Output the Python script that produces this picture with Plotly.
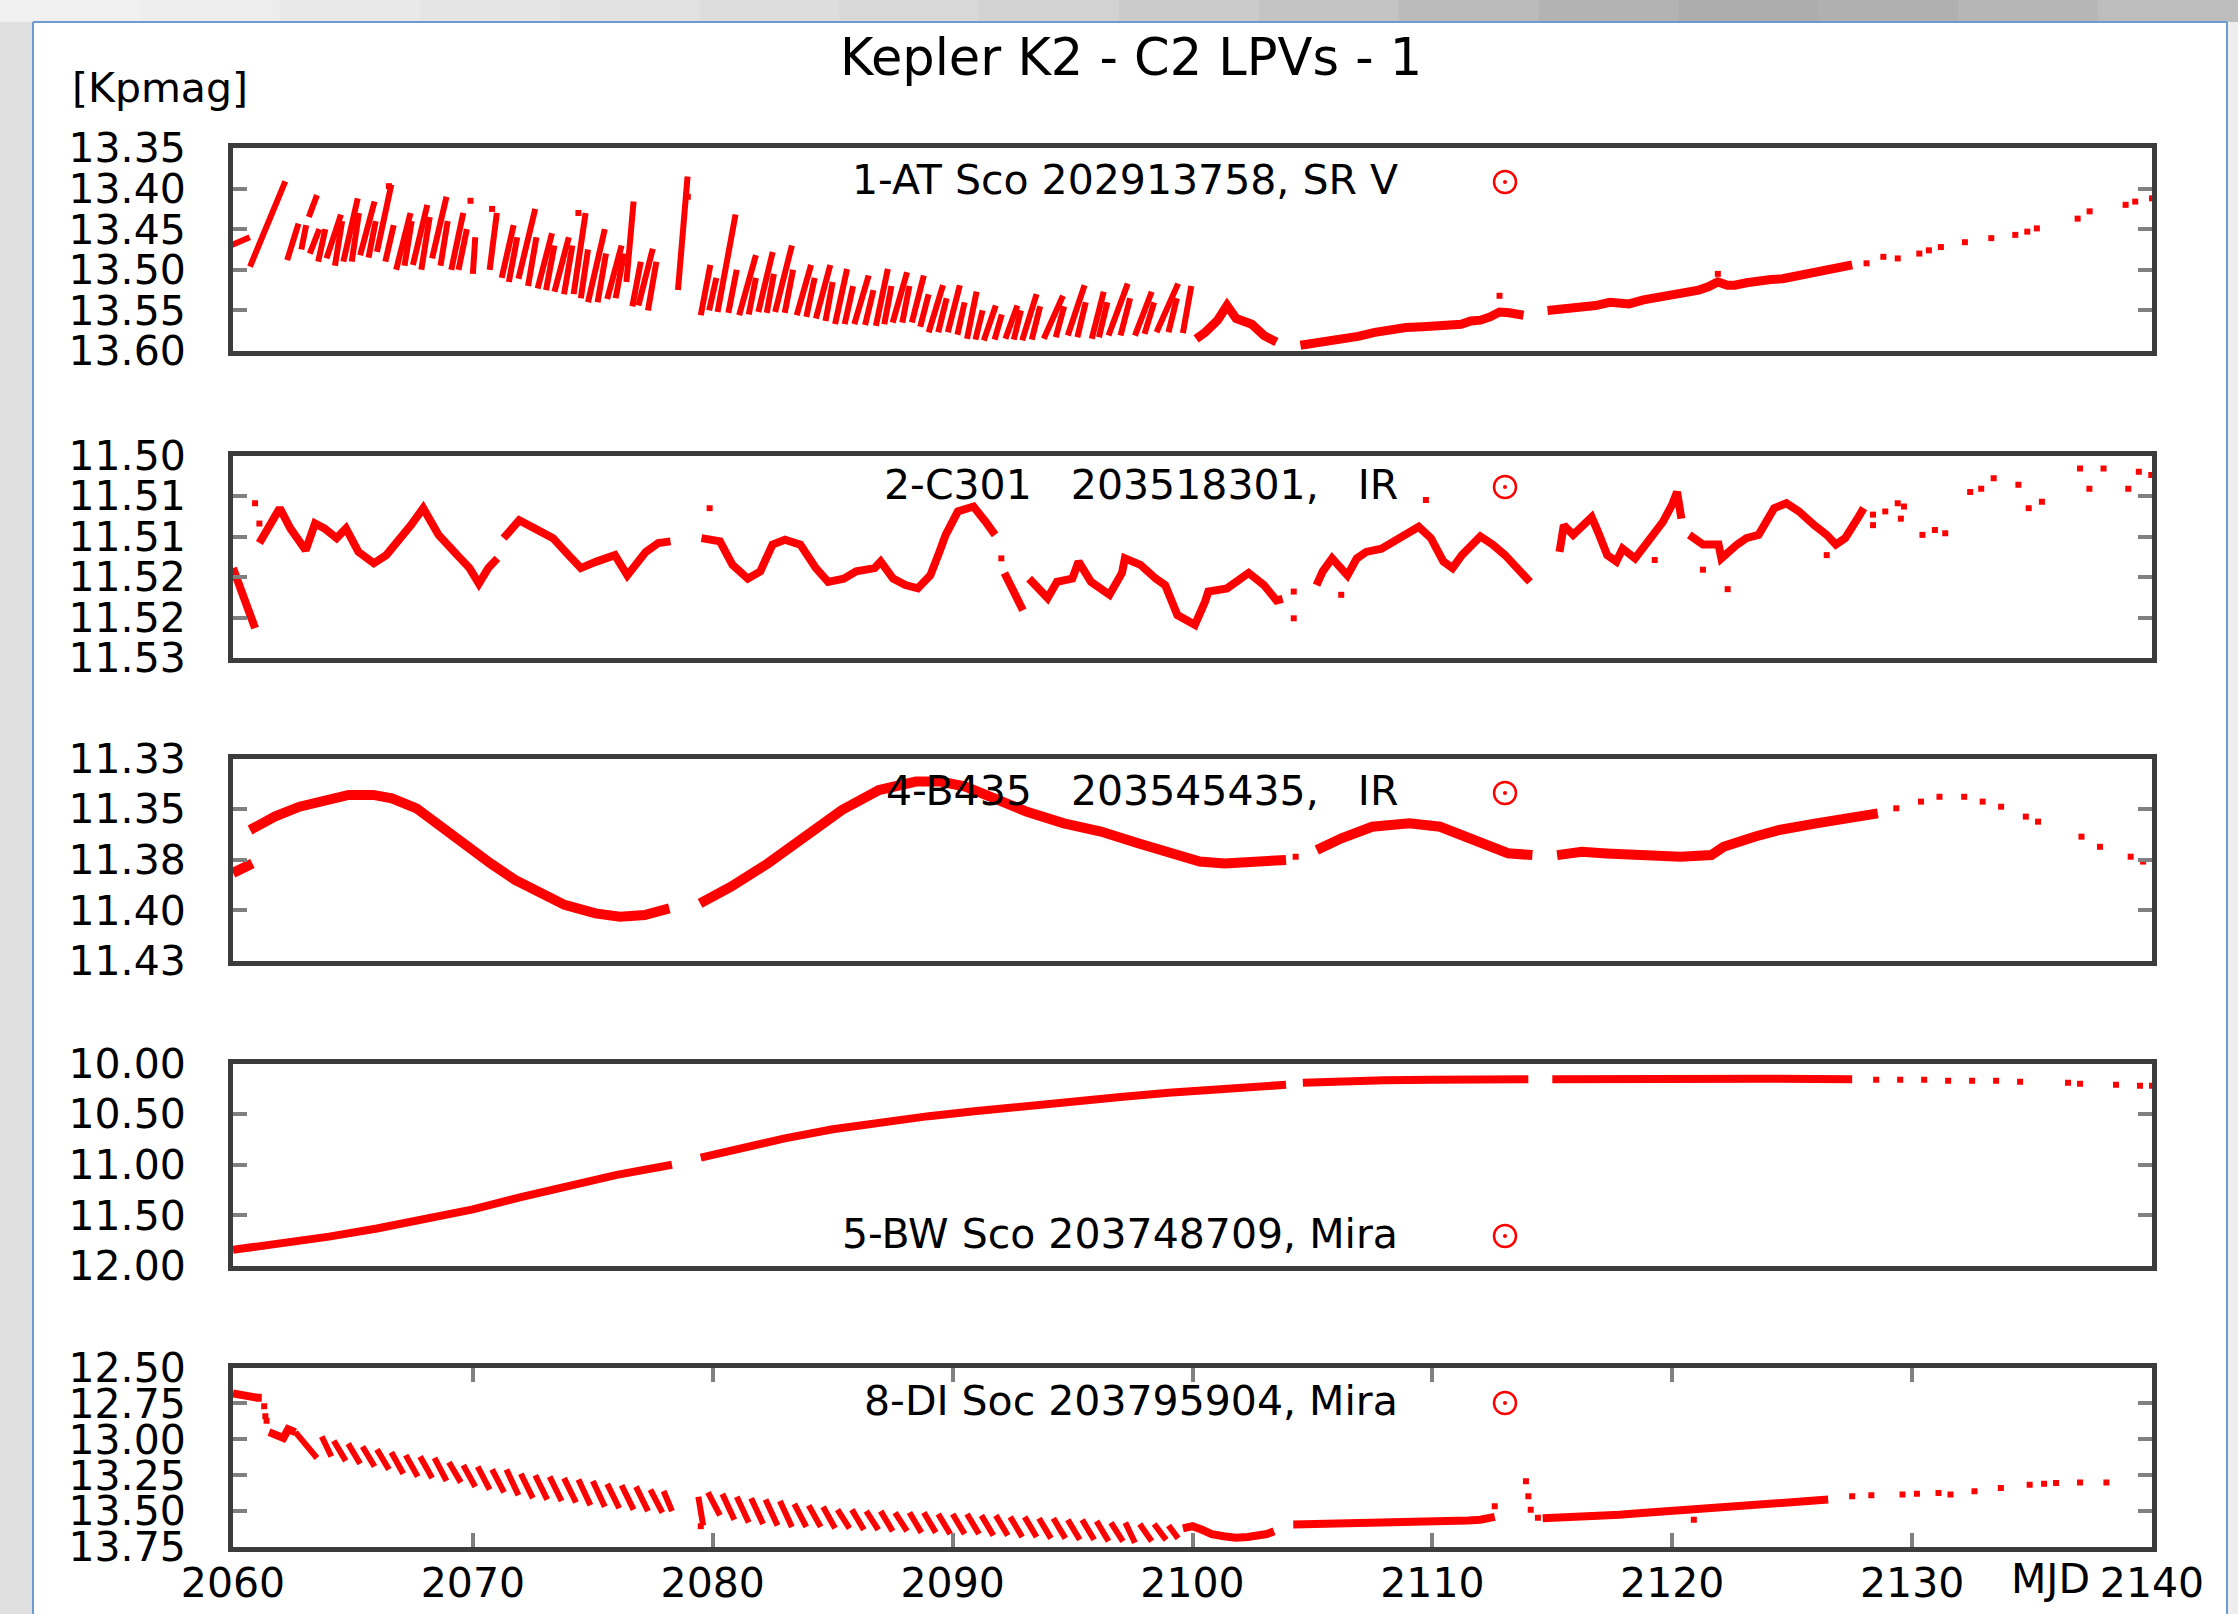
import plotly.graph_objects as go

# ---------------- data ----------------
x_tick_vals = [2060, 2070, 2080, 2090, 2100, 2110, 2120, 2130, 2140]
x_tick_text = ["2060", "2070", "2080", "2090", "2100", "2110", "2120", "2130", "2140"]

# Panel 1: 1-AT Sco
p1_label = "1-AT Sco 202913758, SR V"
p1_range = [13.60, 13.35]
p1_yticks = [13.35, 13.40, 13.45, 13.50, 13.55, 13.60]
p1_ytext = ["13.35", "13.40", "13.45", "13.50", "13.55", "13.60"]
p1_st_t0 = [2059.9, 2060.71, 2062.26, 2063.16, 2063.2, 2063.9, 2064.6, 2065.3, 2066.0, 2066.8, 2067.5, 2068.3,
            2069.1, 2070.0, 2070.7, 2071.2, 2071.9, 2072.7, 2073.4, 2074.2, 2074.8, 2075.6, 2076.4, 2076.9,
            2078.55, 2079.5, 2080.2, 2081.1, 2081.9, 2082.6, 2083.5, 2084.3, 2085.1, 2085.9, 2086.8, 2087.5,
            2088.3, 2089.0, 2089.8, 2090.6, 2091.3, 2092.2, 2092.9, 2093.8, 2094.8, 2095.8, 2096.5, 2097.6,
            2098.5, 2099.6]
p1_st_m0 = [13.470, 13.496, 13.488, 13.435, 13.480, 13.486, 13.490, 13.482, 13.478, 13.500, 13.494, 13.486,
            13.500, 13.505, 13.500, 13.510, 13.511, 13.523, 13.527, 13.530, 13.540, 13.536, 13.515, 13.544,
            13.525, 13.556, 13.552, 13.556, 13.552, 13.552, 13.556, 13.560, 13.567, 13.567, 13.569, 13.565,
            13.565, 13.577, 13.577, 13.585, 13.587, 13.585, 13.587, 13.585, 13.581, 13.585, 13.581, 13.581,
            13.577, 13.578]
p1_st_t1 = [2060.7, 2062.18, 2062.73, 2063.5, 2063.6, 2064.5, 2065.2, 2065.9, 2066.6, 2067.4, 2068.1, 2068.9,
            2069.6, 2070.1, 2071.0, 2071.7, 2072.6, 2073.3, 2074.0, 2074.7, 2075.5, 2076.2, 2076.7, 2077.5,
            2078.95, 2079.9, 2080.95, 2081.8, 2082.5, 2083.3, 2084.1, 2084.9, 2085.6, 2086.5, 2087.3, 2088.1,
            2088.8, 2089.6, 2090.3, 2091.0, 2091.8, 2092.7, 2093.5, 2094.6, 2095.5, 2096.3, 2097.3, 2098.3,
            2099.4, 2099.95]
p1_st_m1 = [13.460, 13.391, 13.443, 13.408, 13.450, 13.432, 13.412, 13.416, 13.395, 13.430, 13.420, 13.410,
            13.430, 13.460, 13.430, 13.445, 13.425, 13.455, 13.460, 13.430, 13.450, 13.470, 13.416, 13.474,
            13.385, 13.494, 13.432, 13.482, 13.478, 13.470, 13.494, 13.494, 13.499, 13.507, 13.499, 13.503,
            13.507, 13.519, 13.519, 13.527, 13.544, 13.544, 13.530, 13.532, 13.519, 13.527, 13.517, 13.527,
            13.517, 13.520]
# interleaved streaks of panel 1
p1_st2_t0 = [2062.85, 2063.55, 2064.25, 2064.95, 2065.65, 2066.35, 2067.15, 2067.85, 2068.65, 2069.4,
             2071.5, 2072.3, 2073.05, 2073.8, 2074.5, 2075.2, 2075.95, 2076.65, 2077.3,
             2079.85, 2080.65, 2081.5, 2082.25, 2083.0, 2083.9, 2084.7, 2085.5, 2086.35, 2087.15, 2087.9,
             2088.65, 2089.4, 2090.2, 2090.95, 2091.75, 2092.55, 2093.3, 2094.3, 2095.2, 2096.1, 2097.0,
             2098.0, 2099.0]
p1_st2_m0 = [13.475, 13.490, 13.495, 13.490, 13.485, 13.490, 13.495, 13.500, 13.495, 13.500,
             13.515, 13.520, 13.525, 13.530, 13.535, 13.540, 13.535, 13.545, 13.550,
             13.550, 13.553, 13.555, 13.553, 13.553, 13.558, 13.563, 13.567, 13.568, 13.567, 13.565,
             13.570, 13.577, 13.580, 13.586, 13.586, 13.586, 13.586, 13.583, 13.583, 13.583, 13.581,
             13.579, 13.577]
p1_st2_t1 = [2063.05, 2063.85, 2064.55, 2065.25, 2065.95, 2066.7, 2067.45, 2068.2, 2068.95, 2069.75,
             2071.85, 2072.65, 2073.4, 2074.15, 2074.8, 2075.55, 2076.3, 2077.0, 2077.65,
             2080.15, 2081.0, 2081.8, 2082.55, 2083.35, 2084.25, 2085.0, 2085.85, 2086.7, 2087.45, 2088.2,
             2089.0, 2089.75, 2090.5, 2091.25, 2092.05, 2092.85, 2093.65, 2094.65, 2095.55, 2096.45, 2097.4,
             2098.4, 2099.35]
p1_st2_m1 = [13.445, 13.450, 13.440, 13.430, 13.440, 13.445, 13.440, 13.435, 13.440, 13.450,
             13.460, 13.460, 13.470, 13.470, 13.475, 13.480, 13.480, 13.490, 13.490,
             13.510, 13.500, 13.510, 13.505, 13.500, 13.510, 13.515, 13.520, 13.525, 13.520, 13.520,
             13.530, 13.535, 13.540, 13.550, 13.555, 13.550, 13.545, 13.545, 13.540, 13.540, 13.535,
             13.540, 13.535]
p1_hump_t = [2100.15, 2100.53, 2101.05, 2101.44, 2101.82, 2102.47, 2102.98, 2103.5]
p1_hump_m = [13.585, 13.577, 13.562, 13.544, 13.560, 13.567, 13.581, 13.589]
p1_band1_t = [2104.5, 2105.3, 2106.1, 2106.9, 2107.6, 2108.3, 2108.9, 2109.6, 2110.2, 2110.7, 2111.2, 2111.6,
              2112.0, 2112.4, 2112.8, 2113.2, 2113.5, 2113.8]
p1_band1_m = [13.593, 13.590, 13.587, 13.582, 13.577, 13.573, 13.571, 13.570, 13.569, 13.568, 13.567, 13.563,
              13.562, 13.558, 13.552, 13.553, 13.555, 13.556]
p1_band2_t = [2114.8, 2115.3, 2116.1, 2116.8, 2117.4, 2118.2, 2118.8, 2119.5, 2120.0, 2120.5, 2121.1, 2121.5,
              2121.9, 2122.3, 2122.6, 2123.1, 2123.6, 2124.1, 2124.6, 2125.1, 2125.7, 2126.2, 2126.7, 2127.1, 2127.5]
p1_band2_m = [13.550, 13.549, 13.546, 13.544, 13.540, 13.542, 13.537, 13.534, 13.532, 13.529, 13.525, 13.521,
              13.515, 13.519, 13.519, 13.516, 13.513, 13.512, 13.511, 13.508, 13.505, 13.502, 13.499, 13.496, 13.494]
p1_dots_t = [2069.9, 2070.8, 2074.4, 2066.5, 2078.96, 2112.8, 2121.9, 2128.1, 2128.8, 2129.4, 2130.3, 2130.7,
             2131.2, 2132.2, 2133.3, 2134.3, 2134.8, 2135.2, 2136.9, 2137.4, 2138.9, 2139.3, 2140.0]
p1_dots_m = [13.415, 13.425, 13.430, 13.397, 13.410, 13.532, 13.505, 13.492, 13.484, 13.486, 13.480, 13.476,
             13.472, 13.466, 13.461, 13.457, 13.453, 13.449, 13.437, 13.428, 13.420, 13.416, 13.412]

# Panel 2: C301
p2_label = "2-C301   203518301,   IR"
p2_range = [11.525, 11.500]
p2_yticks = [11.500, 11.505, 11.510, 11.515, 11.520, 11.525]
p2_ytext = ["11.50", "11.51", "11.51", "11.52", "11.52", "11.53"]
p2_seg1_t = [2060.0, 2060.45, 2060.92]
p2_seg1_m = [11.5139, 11.5176, 11.5213]
p2_seg2_t = [2061.10, 2061.49, 2061.95, 2062.39, 2063.03, 2063.42, 2063.81, 2064.32, 2064.71, 2065.23, 2065.87,
             2066.39, 2066.77, 2067.42, 2067.93, 2068.57, 2069.35, 2069.86, 2070.25, 2070.64, 2071.02]
p2_seg2_m = [11.5108, 11.5090, 11.5065, 11.5090, 11.5117, 11.5084, 11.5090, 11.5102, 11.5090, 11.5119, 11.5133,
             11.5123, 11.5110, 11.5086, 11.5065, 11.5098, 11.5123, 11.5139, 11.5158, 11.5139, 11.5127]
p2_seg3_t = [2071.28, 2071.93, 2072.57, 2073.34, 2073.99, 2074.50, 2075.15, 2075.92, 2076.44, 2077.21, 2077.73, 2078.24]
p2_seg3_m = [11.5102, 11.5080, 11.5090, 11.5102, 11.5123, 11.5139, 11.5131, 11.5123, 11.5148, 11.5119, 11.5108, 11.5106]
p2_seg4_t = [2079.53, 2080.30, 2080.82, 2081.46, 2081.98, 2082.49, 2083.01, 2083.65, 2084.30, 2084.81, 2085.46,
             2085.98, 2086.75, 2087.00, 2087.52, 2088.03, 2088.55, 2089.07, 2089.45, 2089.71, 2090.22, 2090.87,
             2091.38, 2091.77]
p2_seg4_m = [11.5102, 11.5106, 11.5135, 11.5152, 11.5143, 11.5110, 11.5104, 11.5110, 11.5139, 11.5156, 11.5152,
             11.5143, 11.5139, 11.5131, 11.5152, 11.5160, 11.5164, 11.5148, 11.5119, 11.5098, 11.5069, 11.5063,
             11.5082, 11.5098]
p2_seg5_t = [2092.16, 2092.55, 2092.93]
p2_seg5_m = [11.5145, 11.5168, 11.5191]
p2_seg6_t = [2093.19, 2093.96, 2094.35, 2094.99, 2095.25, 2095.77, 2096.54, 2097.06, 2097.18, 2097.83, 2098.47,
             2098.86, 2099.37, 2100.10, 2100.53, 2100.66, 2101.44, 2102.34, 2102.98, 2103.50, 2103.76]
p2_seg6_m = [11.5152, 11.5176, 11.5156, 11.5152, 11.5131, 11.5156, 11.5172, 11.5145, 11.5127, 11.5135, 11.5152,
             11.5160, 11.5197, 11.5209, 11.5180, 11.5168, 11.5164, 11.5145, 11.5160, 11.5179, 11.5177]
p2_seg7_t = [2105.17, 2105.43, 2105.82, 2106.46, 2106.85, 2107.24, 2107.88, 2108.40, 2108.91, 2109.43, 2109.94,
             2110.46, 2110.84, 2111.23, 2112.00, 2112.52, 2113.03, 2113.55, 2114.07]
p2_seg7_m = [11.5160, 11.5143, 11.5127, 11.5148, 11.5127, 11.5119, 11.5115, 11.5106, 11.5098, 11.5088, 11.5102,
             11.5131, 11.5139, 11.5123, 11.5100, 11.5110, 11.5123, 11.5139, 11.5156]
p2_seg8_t = [2115.30, 2115.48, 2115.87, 2116.64, 2116.90, 2117.29, 2117.67, 2117.93, 2118.45, 2118.96, 2119.61,
             2119.99, 2120.20, 2120.38]
p2_seg8_m = [11.5119, 11.5086, 11.5098, 11.5076, 11.5094, 11.5123, 11.5131, 11.5115, 11.5127, 11.5106, 11.5082,
             11.5061, 11.5045, 11.5078]
p2_seg9_t = [2120.71, 2121.28, 2121.93, 2122.05, 2122.70, 2123.09, 2123.60, 2123.99, 2124.25, 2124.76, 2125.28,
             2125.92, 2126.44, 2126.82, 2127.21, 2127.72, 2127.98]
p2_seg9_m = [11.5098, 11.5110, 11.5110, 11.5127, 11.5110, 11.5102, 11.5098, 11.5078, 11.5065, 11.5059, 11.5069,
             11.5086, 11.5098, 11.5110, 11.5102, 11.5078, 11.5065]
p2_dots_t = [2060.92, 2061.10, 2079.87, 2092.03, 2104.22, 2104.22, 2106.20, 2109.73, 2119.27, 2121.28, 2122.31,
             2126.44, 2128.37, 2128.37, 2128.88, 2129.40, 2129.66, 2129.53, 2130.43, 2130.95, 2131.38, 2132.42,
             2132.88, 2133.40, 2134.43, 2134.86, 2135.41, 2137.00, 2137.39, 2137.98, 2139.01, 2139.45, 2139.97]
p2_dots_m = [11.5059, 11.5084, 11.5065, 11.5127, 11.5168, 11.5201, 11.5172, 11.5055, 11.5129, 11.5141, 11.5165,
             11.5123, 11.5073, 11.5086, 11.5069, 11.5059, 11.5063, 11.5078, 11.5098, 11.5092, 11.5096, 11.5045,
             11.5041, 11.5028, 11.5036, 11.5065, 11.5057, 11.5016, 11.5041, 11.5016, 11.5041, 11.5020, 11.5024]

# Panel 3: B435
p3_label = "4-B435   203545435,   IR"
p3_range = [11.425, 11.325]
p3_yticks = [11.325, 11.350, 11.375, 11.400, 11.425]
p3_ytext = ["11.33", "11.35", "11.38", "11.40", "11.43"]
p3_seg1_t = [2060.0, 2060.4, 2060.81]
p3_seg1_m = [11.3815, 11.3790, 11.3768]
p3_seg2_t = [2060.71, 2061.74, 2062.77, 2063.79, 2064.82, 2065.85, 2066.62, 2067.65, 2068.68, 2069.71, 2070.74,
             2071.76, 2072.79, 2073.82, 2075.11, 2076.13, 2077.16, 2078.19]
p3_seg2_m = [11.3603, 11.3537, 11.3488, 11.3455, 11.3430, 11.3430, 11.3447, 11.3496, 11.3587, 11.3685, 11.3768,
             11.3850, 11.3916, 11.3973, 11.4015, 11.4031, 11.4023, 11.3990]
p3_seg3_t = [2079.47, 2080.76, 2082.30, 2083.84, 2085.39, 2086.93, 2088.47, 2089.50, 2090.53, 2091.56, 2093.10,
             2094.64, 2096.18, 2097.73, 2099.27, 2100.30, 2101.33, 2102.87, 2103.90]
p3_seg3_m = [11.3965, 11.3883, 11.3768, 11.3636, 11.3504, 11.3406, 11.3364, 11.3364, 11.3389, 11.3438, 11.3513,
             11.3570, 11.3611, 11.3669, 11.3727, 11.3759, 11.3768, 11.3759, 11.3751]
p3_seg4_t = [2105.18, 2106.21, 2107.49, 2109.04, 2110.32, 2111.09, 2112.12, 2113.15, 2114.17]
p3_seg4_m = [11.3702, 11.3644, 11.3587, 11.3570, 11.3587, 11.3620, 11.3669, 11.3718, 11.3727]
p3_seg5_t = [2115.20, 2116.23, 2117.26, 2118.80, 2120.34, 2121.63, 2122.14, 2123.43, 2124.46, 2126.00, 2127.54, 2128.57]
p3_seg5_m = [11.3727, 11.3711, 11.3719, 11.3727, 11.3735, 11.3727, 11.3686, 11.3636, 11.3603, 11.3570, 11.3546, 11.3521]
p3_dots_t = [2104.3, 2129.34, 2130.37, 2131.14, 2132.17, 2132.94, 2133.71, 2134.74, 2135.25, 2137.06, 2137.83,
             2139.11, 2139.63]
p3_dots_m = [11.3735, 11.3496, 11.3463, 11.3439, 11.3439, 11.3463, 11.3488, 11.3537, 11.3562, 11.3636, 11.3686,
             11.3735, 11.3759]

# Panel 4: BW Sco
p4_label = "5-BW Sco 203748709, Mira"
p4_range = [12.0, 10.0]
p4_yticks = [10.0, 10.5, 11.0, 11.5, 12.0]
p4_ytext = ["10.00", "10.50", "11.00", "11.50", "12.00"]
p4_seg1_t = [2060.0, 2062.0, 2064.0, 2066.0, 2068.0, 2070.0, 2072.0, 2074.0, 2076.0, 2078.3]
p4_seg1_m = [11.84, 11.78, 11.71, 11.63, 11.54, 11.44, 11.32, 11.20, 11.10, 11.00]
p4_seg2_t = [2079.5, 2081.0, 2083.0, 2085.0, 2087.0, 2089.0, 2091.0, 2093.0, 2095.0, 2097.0, 2099.0, 2101.0,
             2103.0, 2103.9]
p4_seg2_m = [10.93, 10.84, 10.74, 10.65, 10.58, 10.52, 10.47, 10.42, 10.37, 10.33, 10.29, 10.25, 10.22, 10.21]
p4_seg3_t = [2104.6, 2106.0, 2108.0, 2110.0, 2112.0, 2114.0]
p4_seg3_m = [10.19, 10.175, 10.165, 10.16, 10.155, 10.155]
p4_seg4_t = [2115.0, 2118.0, 2121.0, 2124.0, 2127.5]
p4_seg4_m = [10.155, 10.15, 10.15, 10.15, 10.155]
p4_dots_t = [2128.5, 2129.5, 2130.5, 2131.5, 2132.5, 2133.5, 2134.5, 2136.5, 2137.0, 2138.5, 2139.5, 2140.0]
p4_dots_m = [10.16, 10.16, 10.16, 10.17, 10.17, 10.17, 10.18, 10.19, 10.20, 10.21, 10.22, 10.22]

# Panel 5: DI Sco
p5_label = "8-DI Soc 203795904, Mira"
p5_range = [13.75, 12.50]
p5_yticks = [12.50, 12.75, 13.00, 13.25, 13.50, 13.75]
p5_ytext = ["12.50", "12.75", "13.00", "13.25", "13.50", "13.75"]
p5_seg1_t = [2060.0, 2060.5, 2061.0, 2061.2]
p5_seg1_m = [12.68, 12.70, 12.71, 12.71]
p5_seg2_t = [2061.5, 2061.8, 2062.1, 2062.3, 2062.6]
p5_seg2_m = [12.95, 12.97, 12.99, 12.93, 12.95]
p5_st_t0 = [2062.6, 2063.7, 2064.2, 2064.8, 2065.4, 2066.0, 2066.6, 2067.2, 2067.8, 2068.4, 2069.0, 2069.6,
            2070.2, 2070.8, 2071.4, 2072.0, 2072.6, 2073.2, 2073.8, 2074.4, 2075.0, 2075.6, 2076.2, 2076.8,
            2077.4, 2077.95,
            2079.4, 2079.8, 2080.4, 2081.0, 2081.6, 2082.2, 2082.8, 2083.4, 2084.0, 2084.6, 2085.2, 2085.8,
            2086.4, 2087.0, 2087.6, 2088.2, 2088.8, 2089.4, 2090.0, 2090.6, 2091.2, 2091.8, 2092.4, 2093.0,
            2093.6, 2094.2, 2094.8, 2095.4, 2096.0, 2096.6, 2097.2, 2097.8, 2098.4, 2099.0]
p5_st_m0 = [12.95, 12.98, 13.01, 13.03, 13.05, 13.07, 13.09, 13.11, 13.12, 13.13, 13.16, 13.18,
            13.19, 13.21, 13.21, 13.24, 13.25, 13.26, 13.27, 13.28, 13.29, 13.31, 13.32, 13.33,
            13.35, 13.36,
            13.40, 13.37, 13.38, 13.40, 13.41, 13.42, 13.43, 13.45, 13.46, 13.47, 13.49, 13.49,
            13.50, 13.50, 13.51, 13.51, 13.51, 13.52, 13.52, 13.52, 13.53, 13.53, 13.54, 13.54,
            13.55, 13.55, 13.56, 13.56, 13.57, 13.58, 13.58, 13.59, 13.59, 13.60]
p5_st_t1 = [2063.5, 2064.1, 2064.7, 2065.3, 2065.9, 2066.5, 2067.1, 2067.7, 2068.3, 2068.9, 2069.5, 2070.1,
            2070.7, 2071.3, 2071.9, 2072.5, 2073.1, 2073.7, 2074.3, 2074.9, 2075.5, 2076.1, 2076.7, 2077.3,
            2077.9, 2078.3,
            2079.6, 2080.3, 2080.9, 2081.5, 2082.1, 2082.7, 2083.3, 2083.9, 2084.5, 2085.1, 2085.7, 2086.3,
            2086.9, 2087.5, 2088.1, 2088.7, 2089.3, 2089.9, 2090.5, 2091.1, 2091.7, 2092.3, 2092.9, 2093.5,
            2094.1, 2094.7, 2095.3, 2095.9, 2096.5, 2097.1, 2097.6, 2098.3, 2098.9, 2099.4]
p5_st_m1 = [13.13, 13.12, 13.15, 13.17, 13.19, 13.21, 13.24, 13.26, 13.27, 13.29, 13.30, 13.33,
            13.35, 13.37, 13.39, 13.41, 13.42, 13.43, 13.44, 13.46, 13.47, 13.48, 13.49, 13.50,
            13.51, 13.50,
            13.60, 13.53, 13.56, 13.58, 13.59, 13.60, 13.61, 13.61, 13.61, 13.62, 13.62, 13.63,
            13.63, 13.64, 13.64, 13.65, 13.65, 13.66, 13.66, 13.66, 13.67, 13.67, 13.68, 13.68,
            13.69, 13.69, 13.70, 13.70, 13.71, 13.71, 13.72, 13.71, 13.70, 13.69]
p5_hump_t = [2099.6, 2100.0, 2100.4, 2100.8, 2101.3, 2101.8, 2102.3, 2102.8, 2103.1, 2103.4]
p5_hump_m = [13.62, 13.605, 13.63, 13.66, 13.675, 13.685, 13.68, 13.675, 13.66, 13.64]
p5_band1_t = [2104.2, 2105.0, 2106.0, 2107.0, 2108.2, 2109.3, 2110.2, 2110.8, 2111.5, 2112.0, 2112.3, 2112.6]
p5_band1_m = [13.594, 13.592, 13.590, 13.586, 13.582, 13.580, 13.576, 13.571, 13.565, 13.560, 13.545, 13.540]
p5_band2_t = [2114.6, 2115.2, 2116.0, 2117.0, 2117.8, 2118.6, 2119.4, 2120.3, 2121.2, 2122.0, 2122.8, 2123.5,
              2124.0, 2124.8, 2125.6, 2126.5]
p5_band2_m = [13.550, 13.547, 13.540, 13.535, 13.525, 13.515, 13.505, 13.490, 13.485, 13.475, 13.465, 13.455,
              13.445, 13.440, 13.430, 13.420]
p5_dots_t = [2061.3, 2061.35, 2061.4, 2112.6, 2113.9, 2114.0, 2114.1, 2114.4, 2120.9, 2079.5, 2127.5, 2128.3,
             2129.6, 2130.2, 2131.1, 2131.6, 2132.6, 2133.7, 2134.9, 2135.5, 2136.0, 2137.0, 2138.1]
p5_dots_m = [12.77, 12.84, 12.87, 13.466, 13.293, 13.397, 13.49, 13.547, 13.56, 13.605, 13.397, 13.39,
             13.385, 13.38, 13.374, 13.385, 13.362, 13.339, 13.316, 13.31, 13.304, 13.30, 13.30]

# ---------------- layout geometry (pixels) ----------------
W, H = 2238, 1614
L, R, T, B = 233, 2152, 148, 1547
panel_px = [(148, 351), (455.5, 658), (758.5, 961), (1063.5, 1266), (1367.5, 1547)]
label_y_px = [180, 485, 791, 1234, 1401]
FONT = "DejaVu Sans"
RED = "#ff0000"


def xp(px):
    return (px - L) / (R - L)


def yp(py):
    return (B - py) / (B - T)


def join_segments(*segs):
    xs, ys = [], []
    for t, m in segs:
        xs += list(t) + [None]
        ys += list(m) + [None]
    return xs, ys


def streaks(t0, m0, t1, m1):
    xs, ys = [], []
    for a, b, c, d in zip(t0, m0, t1, m1):
        xs += [a, c, None]
        ys += [b, d, None]
    return xs, ys


fig = go.Figure()


def add_lines(i, xs, ys, width):
    fig.add_trace(go.Scatter(x=xs, y=ys, mode="lines", line=dict(color=RED, width=width),
                             xaxis="x" if i == 1 else f"x{i}", yaxis="y" if i == 1 else f"y{i}",
                             connectgaps=False, hoverinfo="skip"))


def add_dots(i, xs, ys, size=6):
    fig.add_trace(go.Scatter(x=xs, y=ys, mode="markers",
                             marker=dict(color=RED, size=size, symbol="square", line=dict(width=0)),
                             xaxis="x" if i == 1 else f"x{i}", yaxis="y" if i == 1 else f"y{i}",
                             hoverinfo="skip"))


# panel 1
sx, sy = streaks(p1_st_t0, p1_st_m0, p1_st_t1, p1_st_m1)
add_lines(1, sx, sy, 6)
sx, sy = streaks(p1_st2_t0, p1_st2_m0, p1_st2_t1, p1_st2_m1)
add_lines(1, sx, sy, 6)
bx, by = join_segments((p1_hump_t, p1_hump_m), (p1_band1_t, p1_band1_m), (p1_band2_t, p1_band2_m))
add_lines(1, bx, by, 9)
add_dots(1, p1_dots_t, p1_dots_m)

# panel 2
bx, by = join_segments((p2_seg1_t, p2_seg1_m), (p2_seg2_t, p2_seg2_m), (p2_seg3_t, p2_seg3_m),
                       (p2_seg4_t, p2_seg4_m), (p2_seg5_t, p2_seg5_m), (p2_seg6_t, p2_seg6_m),
                       (p2_seg7_t, p2_seg7_m), (p2_seg8_t, p2_seg8_m), (p2_seg9_t, p2_seg9_m))
add_lines(2, bx, by, 8)
add_dots(2, p2_dots_t, p2_dots_m)

# panel 3
bx, by = join_segments((p3_seg1_t, p3_seg1_m), (p3_seg2_t, p3_seg2_m), (p3_seg3_t, p3_seg3_m),
                       (p3_seg4_t, p3_seg4_m), (p3_seg5_t, p3_seg5_m))
add_lines(3, bx, by, 10)
add_dots(3, p3_dots_t, p3_dots_m)

# panel 4
bx, by = join_segments((p4_seg1_t, p4_seg1_m), (p4_seg2_t, p4_seg2_m), (p4_seg3_t, p4_seg3_m),
                       (p4_seg4_t, p4_seg4_m))
add_lines(4, bx, by, 8)
add_dots(4, p4_dots_t, p4_dots_m)

# panel 5
sx, sy = streaks(p5_st_t0, p5_st_m0, p5_st_t1, p5_st_m1)
add_lines(5, sx, sy, 6)
bx, by = join_segments((p5_seg1_t, p5_seg1_m), (p5_seg2_t, p5_seg2_m), (p5_hump_t, p5_hump_m),
                       (p5_band1_t, p5_band1_m), (p5_band2_t, p5_band2_m))
add_lines(5, bx, by, 8)
add_dots(5, p5_dots_t, p5_dots_m)

# ---------------- axes ----------------
ranges = [p1_range, p2_range, p3_range, p4_range, p5_range]
yticks = [p1_yticks, p2_yticks, p3_yticks, p4_yticks, p5_yticks]
ytexts = [p1_ytext, p2_ytext, p3_ytext, p4_ytext, p5_ytext]
labels = [p1_label, p2_label, p3_label, p4_label, p5_label]

FRAME = "#3c3c3c"
TICKC = "#808080"
layout = dict(
    width=W, height=H,
    margin=dict(l=L, r=W - R, t=T, b=H - B, pad=0, autoexpand=False),
    paper_bgcolor="white", plot_bgcolor="white", showlegend=False,
    font=dict(family=FONT, size=41, color="black"),
)
for i in range(1, 6):
    top, bot = panel_px[i - 1]
    xk = "xaxis" if i == 1 else f"xaxis{i}"
    yk = "yaxis" if i == 1 else f"yaxis{i}"
    xa = dict(domain=[0, 1], range=[2060, 2140], anchor="y" if i == 1 else f"y{i}",
              showline=True, linecolor=FRAME, linewidth=5, mirror=True,
              showgrid=False, zeroline=False, fixedrange=True)
    if i == 5:
        xa.update(ticks="inside", ticklen=14, tickwidth=4, tickcolor=TICKC, mirror="ticks",
                  tickvals=x_tick_vals, ticktext=x_tick_text, showticklabels=True,
                  tickfont=dict(family=FONT, size=41, color="black"), ticklabelstandoff=-4)
    else:
        xa.update(ticks="", showticklabels=False)
    layout[xk] = xa
    layout[yk] = dict(domain=[yp(bot), yp(top)], range=ranges[i - 1], anchor="x" if i == 1 else f"x{i}",
                      tickvals=yticks[i - 1], ticktext=ytexts[i - 1],
                      ticks="inside", ticklen=14, tickwidth=4, tickcolor=TICKC,
                      showline=True, linecolor=FRAME, linewidth=5, mirror="ticks",
                      showgrid=False, zeroline=False, fixedrange=True,
                      tickfont=dict(family=FONT, size=41, color="black"), ticklabelstandoff=34)
fig.update_layout(**layout)

# ---------------- annotations ----------------
ann = [
    dict(text="Kepler K2 - C2 LPVs - 1", x=xp(1131), y=yp(57), font=dict(size=51)),
    dict(text="[Kpmag]", x=xp(160), y=yp(88), font=dict(size=41)),
    dict(text="MJD", x=xp(2050), y=yp(1579), font=dict(size=41)),
]
for lab, ly in zip(labels, label_y_px):
    ann.append(dict(text=lab, x=xp(1400), y=yp(ly), xanchor="right", font=dict(size=41)))
for a in ann:
    a.setdefault("xanchor", "center")
    fig.add_annotation(xref="paper", yref="paper", showarrow=False, yanchor="middle",
                       font=dict(family=FONT, color="black", size=a.pop("font")["size"]), **a)

# ---------------- window frame & key symbols ----------------
shapes = []
grays = ["#f0f0f0", "#ededed", "#e9e9e9", "#e5e5e5", "#e1e1e1", "#dddddd", "#d8d8d8", "#d2d2d2",
         "#cbcbcb", "#c4c4c4", "#bbbbbb", "#b3b3b3", "#adadad", "#b0b0b0", "#b6b6b6", "#bdbdbd"]
step = W / len(grays)
for k, g in enumerate(grays):
    shapes.append(dict(type="rect", xref="paper", yref="paper", x0=xp(k * step), x1=xp((k + 1) * step + 1),
                       y0=yp(22), y1=yp(0), fillcolor=g, line=dict(width=0), layer="above"))
shapes.append(dict(type="rect", xref="paper", yref="paper", x0=xp(0), x1=xp(33), y0=yp(H), y1=yp(22),
                   fillcolor="#e0e0e0", line=dict(width=0), layer="above"))
shapes.append(dict(type="rect", xref="paper", yref="paper", x0=xp(2228), x1=xp(W), y0=yp(H), y1=yp(22),
                   fillcolor="#eeeeee", line=dict(width=0), layer="above"))
for (x0, y0, x1, y1) in [(33, 22, 33, H), (33, 22, 2227, 22), (2227, 22, 2227, H)]:
    shapes.append(dict(type="line", xref="paper", yref="paper", x0=xp(x0), x1=xp(x1), y0=yp(y0), y1=yp(y1),
                       line=dict(color="#6d9bd1", width=2), layer="above"))
for ly in label_y_px:
    for r, filled in [(11, False), (2, True)]:
        shapes.append(dict(type="circle", xref="paper", yref="paper", xsizemode="pixel", ysizemode="pixel",
                           xanchor=xp(1505), yanchor=yp(ly + 2), x0=-r, x1=r, y0=-r, y1=r,
                           line=dict(color=RED, width=2.5 if not filled else 0),
                           fillcolor=RED if filled else "rgba(0,0,0,0)", layer="above"))
fig.update_layout(shapes=shapes)

fig.write_html("out.html", config={"displayModeBar": False},
               post_script="document.body.style.margin='0';document.body.style.overflow='hidden';")
